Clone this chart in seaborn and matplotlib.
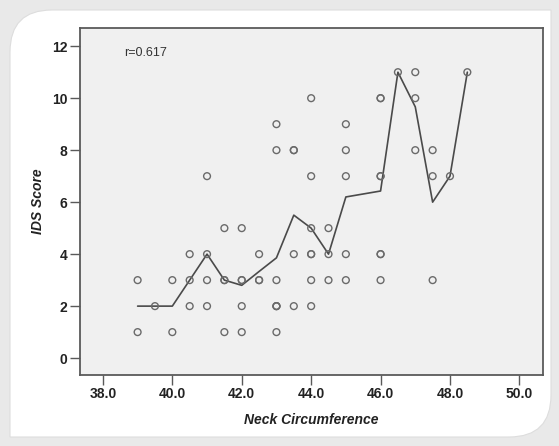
import numpy as np
import pandas as pd
import matplotlib
matplotlib.use("Agg")
import matplotlib.pyplot as plt
from matplotlib.path import Path
from matplotlib.patches import PathPatch
import seaborn as sns

# ---- data ----
neck_levels = [39.0, 39.5, 40.0, 40.5, 41.0, 41.5, 42.0, 42.5, 43.0, 43.5,
               44.0, 44.5, 45.0, 46.0, 46.5, 47.0, 47.5, 48.0, 48.5]
ids_groups = [
    [3, 1],
    [2],
    [3, 1],
    [4, 3, 2],
    [7, 4, 3, 2],
    [5, 3, 3, 1],
    [5, 3, 3, 2, 1],
    [4, 3, 3],
    [9, 8, 3, 2, 2, 2, 1],
    [8, 8, 4, 2],
    [10, 7, 5, 4, 4, 3, 2],
    [5, 4, 3],
    [9, 8, 7, 4, 3],
    [10, 10, 7, 7, 4, 4, 3],
    [11],
    [11, 10, 8],
    [8, 7, 3],
    [7],
    [11],
]
x_ticks = [38.0, 40.0, 42.0, 44.0, 46.0, 48.0, 50.0]
y_ticks = [0, 2, 4, 6, 8, 10, 12]
r_text = "r=0.617"
x_label = "Neck Circumference"
y_label = "IDS Score"

rows = [(x, y) for x, grp in zip(neck_levels, ids_groups) for y in grp]
df = pd.DataFrame(rows, columns=["neck", "ids"])

sns.set_theme(style="white")
plt.rcParams["font.family"] = ["Liberation Sans", "DejaVu Sans"]

W, H = 559, 446
fig = plt.figure(figsize=(W / 100, H / 100), dpi=100)
fig.patch.set_facecolor("#e9e9e9")

# card with rounded top-left and bottom-right corners (pixel coords -> figure fraction)
def fx(px):
    return px / W

def fy(py):
    return 1 - py / H

L, R, T, B, rad = 10, 551, 10, 437, 42
verts = [
    (fx(L + rad), fy(T)), (fx(R), fy(T)), (fx(R), fy(B - rad)),
    (fx(R), fy(B)), (fx(R - rad), fy(B)),
    (fx(L), fy(B)), (fx(L), fy(T + rad)),
    (fx(L), fy(T)), (fx(L + rad), fy(T)),
    (fx(L + rad), fy(T)),
]
codes = [Path.MOVETO, Path.LINETO, Path.LINETO,
         Path.CURVE3, Path.CURVE3,
         Path.LINETO, Path.LINETO,
         Path.CURVE3, Path.CURVE3,
         Path.CLOSEPOLY]
card = PathPatch(Path(verts, codes), facecolor="white", edgecolor="#dddddd",
                 lw=0.8, transform=fig.transFigure, zorder=-5)
fig.patches.append(card)

ax = fig.add_axes([80 / W, 1 - 375 / H, (543 - 80) / W, (375 - 28) / H])
ax.set_zorder(1)
ax.set_facecolor("#f0f0f0")

sns.lineplot(data=df, x="neck", y="ids", estimator="mean", errorbar=None,
             color="#4a4a4a", lw=1.2, ax=ax, zorder=2)
sns.scatterplot(data=df, x="neck", y="ids", marker="o", s=24,
                facecolor="none", edgecolor="#6a6a6a", linewidth=1.0,
                ax=ax, zorder=3)

ax.set_xlim(37.34, 50.68)
ax.set_ylim(-0.65, 12.7)
ax.set_xticks(x_ticks)
ax.set_xticklabels([f"{v:.1f}" for v in x_ticks])
ax.set_yticks(y_ticks)
ax.set_yticklabels([str(v) for v in y_ticks])

for sp in ax.spines.values():
    sp.set_color("#5a5a5a")
    sp.set_linewidth(1.3)

ax.tick_params(axis="both", direction="out", length=7, width=1.0,
               color="#5a5a5a", labelsize=10, labelcolor="#222222", pad=2,
               bottom=True, left=True)
for lab in ax.get_xticklabels() + ax.get_yticklabels():
    lab.set_fontweight("bold")

ax.set_xlabel(x_label, fontsize=10, fontweight="bold", fontstyle="italic",
              color="#222222", labelpad=8)
ax.set_ylabel(y_label, fontsize=10, fontweight="bold", fontstyle="italic",
              color="#222222", labelpad=5)

ax.text(38.6, 11.73, r_text, fontsize=9, color="#333333",
        ha="left", va="center")

fig.savefig("out.png", dpi=100, facecolor=fig.get_facecolor())
